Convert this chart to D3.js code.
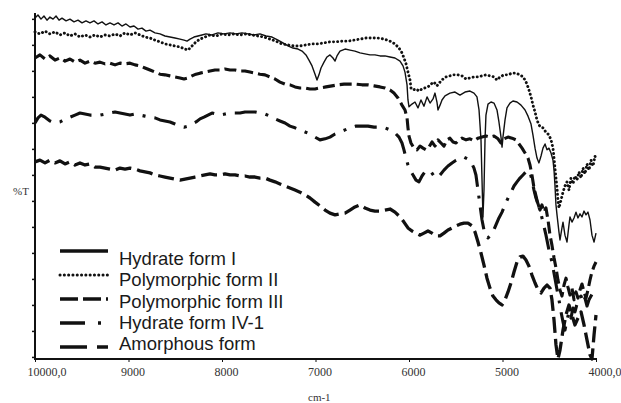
<!DOCTYPE html>
<html>
<head>
<meta charset="utf-8">
<script src="https://cdn.jsdelivr.net/npm/d3@7"></script>
<style>
  body { margin: 0; background: #fff; }
</style>
</head>
<body>
<svg id="chart" width="621" height="403"></svg>
<script>
// spectra: [wavenumber cm-1, %T]
const hydrateFormI = [
  [10000,99.1],[9968,100.0],[9936,98.8],[9904,99.7],[9872,98.5],[9840,99.4],[9807,98.8],[9775,99.7],[9743,98.5],[9711,99.1],
  [9668,98.3],[9626,98.8],[9583,98.0],[9540,98.5],[9497,97.7],[9455,98.3],[9412,97.7],[9369,98.3],[9326,97.4],[9283,98.0],
  [9241,97.1],[9198,97.7],[9155,97.1],[9112,97.7],[9070,96.8],[9027,97.4],[8984,96.5],[8941,96.8],[8898,95.9],[8856,96.2],
  [8813,95.3],[8770,95.6],[8717,94.8],[8663,94.5],[8610,93.9],[8556,93.6],[8503,93.3],[8449,93.0],[8406,92.7],[8374,92.4],
  [8342,93.0],[8300,93.6],[8257,93.9],[8214,94.2],[8171,94.5],[8107,94.2],[8043,94.8],[7979,94.5],[7914,94.8],[7850,94.5],
  [7786,94.8],[7722,94.5],[7658,94.2],[7594,94.5],[7529,93.9],[7465,93.6],[7401,92.7],[7348,91.9],[7294,91.0],[7241,90.4],
  [7187,90.1],[7144,89.5],[7102,88.4],[7070,86.9],[7037,85.2],[7005,82.8],[6984,81.1],[6963,82.6],[6941,84.6],[6909,86.3],
  [6877,87.8],[6845,88.4],[6813,87.5],[6791,86.6],[6770,88.1],[6738,89.5],[6684,90.1],[6631,89.8],[6578,89.5],[6524,89.0],
  [6471,88.7],[6417,88.4],[6364,88.4],[6310,88.1],[6257,88.1],[6203,87.8],[6150,87.5],[6096,86.6],[6064,85.2],[6043,83.4],
  [6021,79.7],[6011,75.3],[6000,73.3],[5968,74.1],[5936,74.7],[5904,73.0],[5872,75.3],[5840,73.5],[5807,76.2],[5775,74.4],
  [5743,75.6],[5722,77.3],[5701,74.7],[5690,72.4],[5668,73.8],[5647,75.3],[5615,76.5],[5562,77.3],[5508,77.6],[5455,76.7],
  [5401,77.6],[5348,77.9],[5305,77.3],[5273,76.2],[5251,72.4],[5230,63.7],[5219,52.0],[5209,41.3],[5198,49.1],[5187,63.7],
  [5177,70.9],[5155,74.1],[5123,74.7],[5091,74.4],[5059,72.4],[5038,68.9],[5016,64.5],[5005,61.6],[4995,64.5],[4973,69.5],
  [4952,73.0],[4920,74.4],[4888,75.0],[4845,74.7],[4802,73.8],[4759,72.4],[4727,70.6],[4695,68.3],[4674,65.1],[4652,61.3],
  [4631,58.4],[4610,57.0],[4588,59.0],[4567,61.3],[4545,62.5],[4524,60.8],[4503,61.3],[4481,59.9],[4460,57.8],[4449,54.9],
  [4439,50.6],[4428,44.8],[4417,41.9],[4396,36.9],[4385,34.6],[4364,38.1],[4353,39.8],[4332,36.0],[4310,34.0],[4289,39.0],
  [4278,41.3],[4257,39.8],[4235,41.0],[4214,42.7],[4193,41.0],[4171,42.2],[4150,41.3],[4128,43.0],[4107,41.9],[4086,42.7],
  [4064,40.4],[4043,36.0],[4021,34.0],[4000,36.6]
];

const polymorphicFormII = [
  [10000,95.1],[9947,94.5],[9893,95.3],[9840,94.5],[9786,95.1],[9733,94.2],[9679,94.8],[9626,93.9],[9572,94.5],[9519,93.6],
  [9465,94.2],[9412,93.6],[9358,94.2],[9305,93.6],[9251,94.2],[9198,93.9],[9144,94.5],[9091,93.9],[9037,94.8],[8984,94.2],
  [8930,94.8],[8877,94.2],[8824,93.6],[8770,93.3],[8717,92.7],[8663,92.2],[8610,91.6],[8556,91.3],[8503,91.0],[8449,90.7],
  [8396,90.1],[8364,89.8],[8321,91.0],[8278,92.2],[8235,93.0],[8182,93.6],[8128,94.2],[8064,93.9],[8000,94.5],[7936,94.2],
  [7872,94.5],[7807,94.2],[7743,94.5],[7679,94.2],[7615,93.9],[7551,93.6],[7487,93.0],[7423,92.4],[7358,91.6],[7294,91.3],
  [7230,91.0],[7166,91.0],[7102,91.3],[7037,91.6],[6973,91.6],[6909,91.9],[6845,92.2],[6781,92.2],[6717,92.4],[6652,92.4],
  [6588,92.7],[6524,93.0],[6460,93.3],[6396,93.3],[6332,93.3],[6267,93.0],[6203,92.4],[6150,91.6],[6107,90.4],[6075,89.0],
  [6054,87.5],[6032,85.8],[6011,83.4],[5989,81.1],[5979,78.8],[5957,78.2],[5925,78.5],[5893,77.9],[5861,78.5],[5829,78.8],
  [5797,79.1],[5765,79.9],[5733,80.5],[5701,79.4],[5668,80.5],[5636,81.4],[5604,82.0],[5562,82.3],[5519,82.6],[5476,82.6],
  [5433,82.3],[5390,81.4],[5348,81.7],[5305,82.0],[5262,82.0],[5219,82.3],[5177,82.6],[5134,82.3],[5091,82.0],[5059,81.1],
  [5027,82.0],[4984,82.6],[4941,82.6],[4898,83.1],[4856,83.1],[4813,82.6],[4781,82.0],[4759,81.1],[4738,79.9],[4717,78.2],
  [4695,76.2],[4674,73.8],[4652,71.8],[4631,69.5],[4610,68.0],[4588,67.4],[4567,67.2],[4545,66.3],[4524,65.7],[4503,65.1],
  [4481,63.7],[4460,61.3],[4449,58.4],[4439,55.5],[4428,52.6],[4417,49.7],[4407,46.2],[4396,43.9],[4374,46.2],[4353,48.5],
  [4332,50.3],[4310,51.5],[4289,49.1],[4268,52.6],[4246,50.9],[4225,53.2],[4203,52.0],[4182,54.4],[4160,52.6],[4139,55.5],
  [4118,53.8],[4096,56.7],[4075,54.9],[4053,57.8],[4032,56.1],[4011,59.0],[4000,57.8]
];

const polymorphicFormIII = [
  [10000,87.5],[9947,88.4],[9893,87.2],[9840,88.1],[9786,86.9],[9733,87.5],[9679,86.6],[9626,87.2],[9572,86.3],[9519,86.9],
  [9465,86.0],[9412,86.6],[9358,86.0],[9305,86.3],[9251,85.8],[9198,86.0],[9144,85.5],[9091,86.0],[9037,85.8],[8984,86.0],
  [8930,85.5],[8877,85.2],[8824,84.6],[8770,84.0],[8717,83.4],[8663,82.8],[8610,82.6],[8556,82.3],[8503,82.0],[8449,81.7],
  [8406,81.4],[8364,81.7],[8321,82.3],[8278,82.8],[8235,83.1],[8182,83.4],[8128,83.7],[8075,84.0],[8021,84.0],[7968,84.3],
  [7914,84.0],[7861,84.0],[7807,83.7],[7754,83.7],[7701,83.4],[7647,83.1],[7594,82.8],[7540,82.6],[7487,82.0],[7433,81.4],
  [7380,80.5],[7326,79.9],[7273,79.7],[7219,79.1],[7166,78.8],[7112,78.8],[7059,78.5],[7005,78.5],[6952,78.8],[6888,79.1],
  [6824,79.4],[6759,79.7],[6695,79.9],[6631,79.9],[6567,79.9],[6503,79.7],[6439,79.7],[6374,79.4],[6310,79.1],[6257,78.8],
  [6203,78.2],[6161,77.3],[6118,75.9],[6075,73.8],[6043,72.4],[6021,70.1],[6011,67.2],[6000,64.8],[5979,62.8],[5947,61.3],
  [5914,60.8],[5882,61.9],[5850,61.3],[5818,60.8],[5786,61.6],[5754,63.1],[5722,61.9],[5690,63.7],[5658,62.8],[5626,61.9],
  [5594,63.7],[5562,64.2],[5529,63.1],[5497,62.8],[5465,63.7],[5433,64.2],[5390,63.7],[5348,64.0],[5305,63.4],[5262,64.2],
  [5219,64.5],[5177,64.8],[5134,64.5],[5091,64.8],[5048,64.0],[5016,62.8],[4984,64.0],[4941,64.5],[4898,64.2],[4856,63.7],
  [4823,62.5],[4791,61.3],[4759,59.9],[4727,58.4],[4706,56.4],[4685,53.5],[4663,49.7],[4642,47.4],[4620,44.8],[4599,43.3],
  [4578,44.8],[4556,42.7],[4535,43.9],[4513,40.4],[4492,36.0],[4471,33.1],[4449,29.4],[4428,26.5],[4407,23.0],[4385,20.1],
  [4364,18.3],[4342,21.5],[4321,23.5],[4300,20.9],[4278,18.6],[4257,20.6],[4235,17.2],[4214,19.5],[4193,17.7],[4171,20.1],
  [4150,21.8],[4128,19.5],[4107,17.7],[4086,20.1],[4064,23.0],[4043,25.3],[4021,27.0],[4000,28.2]
];

const hydrateFormIV1 = [
  [10000,68.6],[9968,70.1],[9936,70.9],[9893,70.3],[9840,69.2],[9786,68.6],[9733,68.9],[9679,69.8],[9626,70.3],[9572,70.9],
  [9519,71.5],[9465,71.2],[9412,70.9],[9358,70.9],[9305,70.9],[9251,71.2],[9198,71.5],[9144,71.8],[9091,71.5],[9037,71.2],
  [8984,70.9],[8930,71.2],[8877,70.9],[8824,70.6],[8770,70.3],[8717,70.1],[8663,69.5],[8610,69.2],[8556,68.9],[8503,68.3],
  [8449,67.7],[8406,67.4],[8364,67.7],[8321,68.3],[8278,68.9],[8235,69.8],[8193,70.3],[8150,70.9],[8107,71.5],[8064,71.2],
  [8021,70.9],[7968,71.2],[7914,71.5],[7861,71.5],[7807,71.5],[7754,71.8],[7701,71.8],[7647,71.8],[7594,71.5],[7540,71.2],
  [7487,70.6],[7433,69.8],[7380,69.2],[7326,68.6],[7273,67.7],[7219,67.2],[7166,66.6],[7112,66.0],[7059,65.4],[7005,64.5],
  [6952,63.7],[6898,64.0],[6845,64.5],[6791,65.4],[6738,66.0],[6684,66.6],[6631,67.2],[6567,67.7],[6503,67.7],[6439,67.7],
  [6374,67.4],[6310,67.4],[6257,67.2],[6203,66.6],[6150,65.7],[6107,64.5],[6075,62.8],[6054,60.8],[6032,58.4],[6011,56.4],
  [5989,54.9],[5957,53.5],[5925,52.0],[5893,51.5],[5861,53.2],[5829,54.4],[5797,54.9],[5765,54.4],[5733,53.2],[5701,52.6],
  [5668,53.5],[5626,54.9],[5583,56.1],[5540,57.0],[5497,57.8],[5455,58.4],[5412,58.7],[5369,58.1],[5337,57.3],[5305,55.5],
  [5284,53.5],[5262,49.1],[5241,44.8],[5219,40.4],[5198,37.5],[5177,35.8],[5155,35.2],[5134,35.8],[5102,36.9],[5070,39.0],
  [5038,41.0],[5005,42.7],[4973,44.8],[4941,46.8],[4909,48.5],[4877,50.3],[4845,51.5],[4813,52.6],[4781,53.5],[4749,54.4],
  [4727,54.9],[4706,54.4],[4685,52.0],[4663,49.1],[4642,46.8],[4620,45.1],[4599,43.3],[4567,39.8],[4535,36.0],[4503,31.7],
  [4471,28.2],[4439,23.5],[4417,20.1],[4396,17.2],[4374,13.7],[4353,10.8],[4332,8.4],[4310,11.3],[4289,13.7],[4268,11.9],
  [4246,14.8],[4225,13.7],[4203,16.0],[4182,17.2],[4160,18.3],[4139,16.3],[4118,17.7],[4096,15.4],[4075,17.2],[4053,18.3],
  [4032,19.5],[4000,20.6]
];

const amorphousForm = [
  [10000,57.3],[9947,57.8],[9893,57.0],[9840,57.8],[9786,57.0],[9733,57.6],[9679,56.7],[9626,57.3],[9572,56.4],[9519,57.0],
  [9465,56.4],[9412,56.7],[9358,55.8],[9305,55.8],[9251,55.5],[9198,55.2],[9144,54.9],[9091,55.5],[9037,55.2],[8984,55.5],
  [8930,55.2],[8877,54.7],[8824,54.4],[8770,54.1],[8717,53.5],[8663,53.2],[8610,52.9],[8556,52.6],[8503,52.3],[8449,52.0],
  [8396,52.3],[8342,52.6],[8289,52.9],[8235,53.2],[8182,53.5],[8128,53.8],[8075,53.5],[8021,53.5],[7968,53.8],[7914,53.5],
  [7861,53.5],[7807,53.2],[7754,53.2],[7701,52.9],[7647,52.9],[7594,52.6],[7540,52.6],[7487,52.0],[7433,51.5],[7380,50.9],
  [7326,50.3],[7273,49.7],[7219,49.1],[7166,48.5],[7112,47.7],[7059,46.8],[7005,45.6],[6952,44.5],[6898,43.3],[6845,42.4],
  [6791,41.9],[6738,42.2],[6684,42.4],[6631,43.3],[6578,44.2],[6524,44.8],[6471,43.9],[6417,43.3],[6364,43.0],[6310,43.0],
  [6257,43.3],[6203,43.6],[6150,42.7],[6096,41.3],[6054,39.8],[6011,38.1],[5968,37.2],[5925,36.6],[5882,36.0],[5840,36.6],
  [5797,37.2],[5754,36.6],[5711,35.8],[5668,35.8],[5626,36.6],[5583,37.5],[5540,38.1],[5497,38.7],[5455,39.2],[5412,39.5],
  [5369,39.5],[5327,38.7],[5294,36.9],[5262,34.0],[5230,30.8],[5198,27.3],[5166,23.5],[5134,20.6],[5102,18.3],[5070,17.2],
  [5038,16.3],[5005,15.7],[4973,17.2],[4941,19.5],[4909,22.1],[4877,25.3],[4845,28.2],[4813,29.7],[4781,29.9],[4749,28.8],
  [4717,27.0],[4685,24.4],[4652,22.1],[4620,20.1],[4588,19.2],[4556,20.6],[4524,21.5],[4492,20.6],[4471,17.2],[4449,11.3],
  [4428,4.1],[4407,0.0],[4385,2.6],[4353,8.4],[4321,12.8],[4289,15.7],[4257,12.8],[4225,9.9],[4193,11.9],[4160,13.7],
  [4128,9.9],[4096,5.5],[4064,1.2],[4043,0.0],[4021,7.0],[4000,12.8]
];

const seriesNames = ['Hydrate form I', 'Polymorphic form II', 'Polymorphic form III', 'Hydrate form IV-1', 'Amorphous form'];
const seriesData = [hydrateFormI, polymorphicFormII, polymorphicFormIII, hydrateFormIV1, amorphousForm];

const xTickValues = [10000, 9000, 8000, 7000, 6000, 5000, 4000];
const xTickLabels = ['10000,0', '9000', '8000', '7000', '6000', '5000', '4000,0'];

// line looks: chart dash / legend dash
const styles = [
  { width: 1.4, dash: null,         legendDash: null,          cap: 'butt' },
  { width: 2.9, dash: '0.1,4',      legendDash: '0.1,4.2',     cap: 'round' },
  { width: 3.1, dash: '12,5',       legendDash: '18,5',        cap: 'butt' },
  { width: 3.1, dash: '22,9,3,9',   legendDash: '25,13,3,13',  cap: 'butt' },
  { width: 3.3, dash: '16,6',       legendDash: '27,10',       cap: 'butt' }
];

const svg = d3.select('#chart');
svg.append('rect').attr('width', 621).attr('height', 403).attr('fill', '#fff');

const x = d3.scaleLinear().domain([10000, 4000]).range([35, 596]);
const y = d3.scaleLinear().domain([0, 100]).range([359, 15]);

// curves
const line = d3.line()
  .x(d => x(d[0]))
  .y(d => y(d[1]));

svg.selectAll('path.spectrum')
  .data(seriesData)
  .join('path')
  .attr('class', 'spectrum')
  .attr('d', line)
  .attr('fill', 'none')
  .attr('stroke', '#111')
  .attr('stroke-width', (d, i) => styles[i].width)
  .attr('stroke-dasharray', (d, i) => styles[i].dash)
  .attr('stroke-linecap', (d, i) => styles[i].cap)
  .attr('stroke-linejoin', 'round');

// x axis
const xAxis = d3.axisBottom(x)
  .tickValues(xTickValues)
  .tickFormat((d, i) => xTickLabels[i])
  .tickSize(3)
  .tickSizeOuter(0);

const gx = svg.append('g')
  .attr('transform', `translate(0,${y(0)})`)
  .call(xAxis);
gx.select('.domain').attr('stroke', '#111').attr('stroke-width', 2).attr('d', `M${x(10000) - 1},0H${x(4000) + 1}`);
gx.selectAll('.tick line').attr('stroke', '#111');
gx.selectAll('.tick text')
  .attr('text-anchor', 'start')
  .attr('dx', -8)
  .attr('y', 8)
  .attr('fill', '#333')
  .style('font-family', '"Liberation Serif", "Times New Roman", serif')
  .style('font-size', '12px');

// y axis, unlabeled ticks
const yTickValues = d3.range(0.6, 100, 7.56);
const yAxis = d3.axisLeft(y)
  .tickValues(yTickValues)
  .tickFormat('')
  .tickSize(3)
  .tickSizeOuter(0);

const gy = svg.append('g')
  .attr('transform', `translate(${x(10000)},0)`)
  .call(yAxis);
gy.select('.domain').attr('stroke', '#111').attr('stroke-width', 2).attr('d', `M0,${y(100) - 2}V${y(0) + 1}`);
gy.selectAll('.tick line').attr('stroke', '#111').attr('stroke-width', 1.5);

// axis titles
svg.append('text')
  .attr('x', 13).attr('y', 195)
  .attr('fill', '#333')
  .style('font-family', '"Liberation Serif", "Times New Roman", serif')
  .style('font-size', '11px')
  .text('%T');

svg.append('text')
  .attr('x', 308).attr('y', 401)
  .attr('fill', '#333')
  .style('font-family', '"Liberation Serif", "Times New Roman", serif')
  .style('font-size', '11px')
  .text('cm-1');

// legend
const legend = svg.append('g');
seriesNames.forEach((name, i) => {
  const ly = 251 + i * 24;
  legend.append('line')
    .attr('x1', 60).attr('x2', 108)
    .attr('y1', ly).attr('y2', ly)
    .attr('stroke', '#111')
    .attr('stroke-width', i === 1 ? 3 : 3.6)
    .attr('stroke-dasharray', styles[i].legendDash)
    .attr('stroke-linecap', styles[i].cap);
  legend.append('text')
    .attr('x', 119)
    .attr('y', 265 + i * 21.3)
    .attr('fill', '#1a1a1a')
    .style('font-family', '"Liberation Sans", Arial, sans-serif')
    .style('font-size', '18.5px')
    .text(name);
});
</script>
</body>
</html>
